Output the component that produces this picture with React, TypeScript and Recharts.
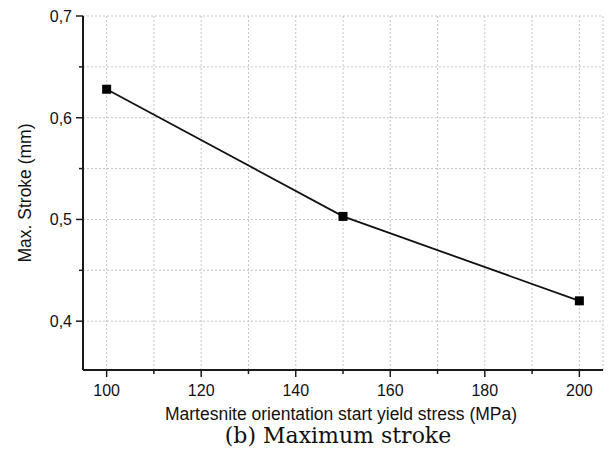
import React from 'react';
import { LineChart, Line, XAxis, YAxis, CartesianGrid } from 'recharts';

const stress = [100, 150, 200];
const stroke = [0.628, 0.503, 0.42];
const xTicks = [100, 110, 120, 130, 140, 150, 160, 170, 180, 190, 200];
const yTicks = [0.4, 0.45, 0.5, 0.55, 0.6, 0.65, 0.7];
const xTitle = 'Martesnite orientation start yield stress (MPa)';
const yTitle = 'Max. Stroke (mm)';
const caption = '(b) Maximum stroke';

const data = stress.map((s, i) => ({ stress: s, stroke: stroke[i] }));

const FONT = 'Liberation Sans, Arial, sans-serif';
const AXIS = '#1a1a1a';

const XTick = (props: any) => {
  const { x, y, payload } = props;
  const major = Math.round(payload.value) % 20 === 0;
  return (
    <g>
      <line x1={x} y1={y} x2={x} y2={y + (major ? 7 : 4)} stroke={AXIS} strokeWidth={1.5} />
      {major && (
        <text x={x} y={y + 26} textAnchor="middle" fontFamily={FONT} fontSize={16} fill="#111">
          {payload.value}
        </text>
      )}
    </g>
  );
};

const YTick = (props: any) => {
  const { x, y, payload } = props;
  const major = Math.round(payload.value * 100) % 10 === 0;
  return (
    <g>
      <line x1={x} y1={y} x2={x - (major ? 7 : 4)} y2={y} stroke={AXIS} strokeWidth={1.5} />
      {major && (
        <text x={x - 11} y={y + 6} textAnchor="end" fontFamily={FONT} fontSize={16} fill="#111">
          {payload.value.toFixed(1).replace('.', ',')}
        </text>
      )}
    </g>
  );
};

const SquareDot = (props: any) => {
  const { cx, cy } = props;
  if (cx == null || cy == null) return null;
  return <rect x={cx - 4.5} y={cy - 4.5} width={9} height={9} fill="#000" />;
};

const XTitleLabel = (props: any) => {
  const { x, y, width } = props.viewBox;
  return (
    <text x={x + width / 2 - 2} y={y + 50} textAnchor="middle" fontFamily={FONT} fontSize={17.5} fill="#111">
      {xTitle}
    </text>
  );
};

const YTitleLabel = (props: any) => {
  const { y, height } = props.viewBox;
  const cx = 25;
  const cy = y + height / 2;
  return (
    <text
      x={cx}
      y={cy}
      transform={`rotate(-90 ${cx} ${cy})`}
      textAnchor="middle"
      dominantBaseline="central"
      fontFamily={FONT}
      fontSize={17.5}
      fill="#111"
    >
      {yTitle}
    </text>
  );
};

export default function App() {
  return (
    <div style={{ position: 'absolute', left: 0, top: 0, width: 610, height: 456, background: '#fff' }}>
      <LineChart width={610} height={456} data={data} margin={{ top: 16, right: 7, bottom: 0, left: 0 }}>
        <CartesianGrid stroke="#c4c4c4" strokeDasharray="2 2" />
        <XAxis
          dataKey="stress"
          type="number"
          domain={[95, 205]}
          ticks={xTicks}
          interval={0}
          height={86}
          tickSize={0}
          tickMargin={0}
          tickLine={false}
          tick={<XTick />}
          axisLine={{ stroke: AXIS, strokeWidth: 2 }}
          label={<XTitleLabel />}
        />
        <XAxis
          xAxisId="top"
          orientation="top"
          type="number"
          domain={[95, 205]}
          height={0}
          tick={false}
          tickLine={false}
          axisLine={{ stroke: AXIS, strokeWidth: 1.5 }}
        />
        <YAxis
          type="number"
          domain={[0.352, 0.7]}
          ticks={yTicks}
          interval={0}
          width={83}
          tickSize={0}
          tickMargin={0}
          tickLine={false}
          tick={<YTick />}
          axisLine={{ stroke: AXIS, strokeWidth: 2 }}
          label={<YTitleLabel />}
        />
        <YAxis
          yAxisId="right"
          orientation="right"
          type="number"
          domain={[0.352, 0.7]}
          width={0}
          tick={false}
          tickLine={false}
          axisLine={{ stroke: AXIS, strokeWidth: 1.5 }}
        />
        <Line
          dataKey="stroke"
          stroke="#111"
          strokeWidth={1.8}
          dot={<SquareDot />}
          activeDot={false}
          isAnimationActive={false}
        />
      </LineChart>
      <div
        style={{
          position: 'absolute',
          left: 0,
          width: 676,
          top: 423,
          textAlign: 'center',
          fontFamily: 'DejaVu Serif, serif',
          fontSize: 22,
          color: '#111',
          lineHeight: '26px',
        }}
      >
        {caption}
      </div>
    </div>
  );
}
